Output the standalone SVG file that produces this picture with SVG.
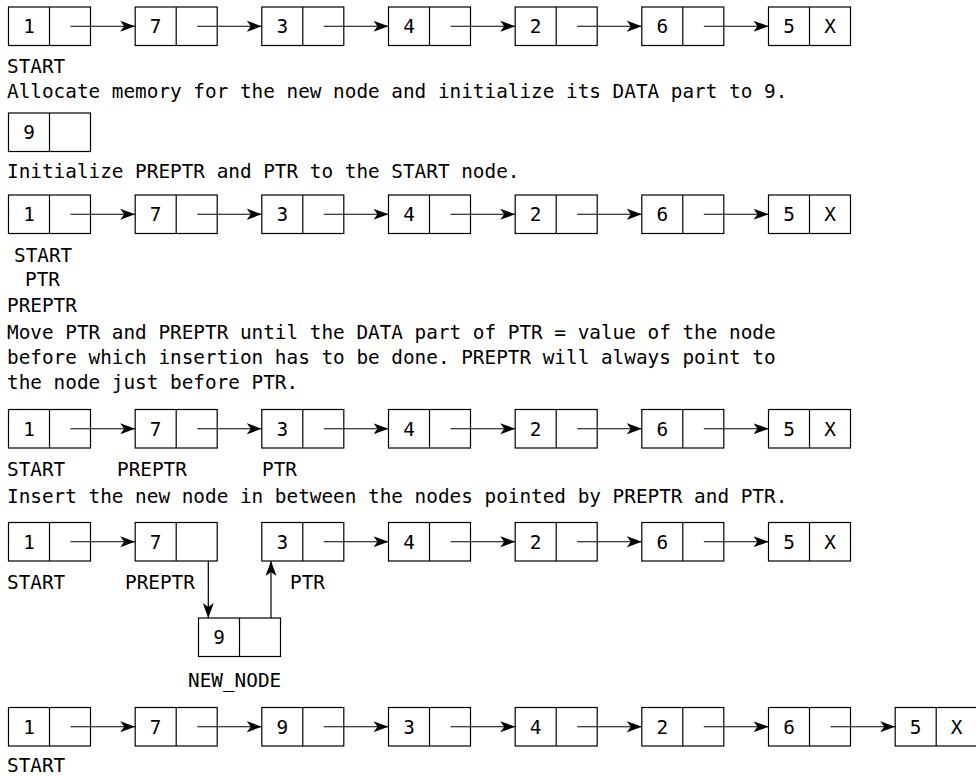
<svg xmlns="http://www.w3.org/2000/svg" xmlns:xlink="http://www.w3.org/1999/xlink" width="976" height="777" viewBox="0 0 976 777">
<style>
.box{fill:#fff;stroke:#000;stroke-width:1.2}
.ln{fill:none;stroke:#000;stroke-width:1.2}
.t{font-family:"DejaVu Sans Mono","Liberation Mono",monospace;font-size:19.35px;fill:#000}
.c{text-anchor:middle}
</style>
<defs>
<g id="frame"><rect class="box" x="0" y="0" width="82" height="38.5"/><line class="ln" x1="41" y1="0" x2="41" y2="38.5"/></g>
<marker id="ah" viewBox="0 0 15 12" refX="15" refY="6" markerWidth="15" markerHeight="12" orient="auto" markerUnits="userSpaceOnUse"><path d="M0,0.5 L15,6 L0,11.5 L4,6 Z" fill="#000"/></marker>
</defs>
<rect x="0" y="0" width="976" height="777" fill="#fff"/>

<!-- Row 1 -->
<g id="r1n1" transform="translate(8.5,7)"><use xlink:href="#frame"/><text class="t c" x="20.5" y="26">1</text></g>
<g id="r1n2" transform="translate(135.2,7)"><use xlink:href="#frame"/><text class="t c" x="20.5" y="26">7</text></g>
<g id="r1n3" transform="translate(261.8,7)"><use xlink:href="#frame"/><text class="t c" x="20.5" y="26">3</text></g>
<g id="r1n4" transform="translate(388.5,7)"><use xlink:href="#frame"/><text class="t c" x="20.5" y="26">4</text></g>
<g id="r1n5" transform="translate(515.2,7)"><use xlink:href="#frame"/><text class="t c" x="20.5" y="26">2</text></g>
<g id="r1n6" transform="translate(641.8,7)"><use xlink:href="#frame"/><text class="t c" x="20.5" y="26">6</text></g>
<g id="r1n7" transform="translate(768.5,7)"><use xlink:href="#frame"/><text class="t c" x="20.5" y="26">5</text><text class="t c" x="61.5" y="26">X</text></g>
<text class="t" x="7" y="73.3">START</text>
<text class="t" x="7" y="97.5">Allocate memory for the new node and initialize its DATA part to 9.</text>

<!-- Row 2 -->
<g id="r2n1" transform="translate(8.5,113)"><use xlink:href="#frame"/><text class="t c" x="20.5" y="26">9</text></g>
<text class="t" x="7" y="178.3">Initialize PREPTR and PTR to the START node.</text>

<!-- Row 3 -->
<g id="r3n1" transform="translate(8.5,195)"><use xlink:href="#frame"/><text class="t c" x="20.5" y="26">1</text></g>
<g id="r3n2" transform="translate(135.2,195)"><use xlink:href="#frame"/><text class="t c" x="20.5" y="26">7</text></g>
<g id="r3n3" transform="translate(261.8,195)"><use xlink:href="#frame"/><text class="t c" x="20.5" y="26">3</text></g>
<g id="r3n4" transform="translate(388.5,195)"><use xlink:href="#frame"/><text class="t c" x="20.5" y="26">4</text></g>
<g id="r3n5" transform="translate(515.2,195)"><use xlink:href="#frame"/><text class="t c" x="20.5" y="26">2</text></g>
<g id="r3n6" transform="translate(641.8,195)"><use xlink:href="#frame"/><text class="t c" x="20.5" y="26">6</text></g>
<g id="r3n7" transform="translate(768.5,195)"><use xlink:href="#frame"/><text class="t c" x="20.5" y="26">5</text><text class="t c" x="61.5" y="26">X</text></g>
<text class="t" x="14" y="261.7">START</text>
<text class="t" x="25" y="286">PTR</text>
<text class="t" x="7" y="311.7">PREPTR</text>
<text class="t" x="7" y="339.3">Move PTR and PREPTR until the DATA part of PTR = value of the node</text>
<text class="t" x="7" y="364">before which insertion has to be done. PREPTR will always point to</text>
<text class="t" x="7" y="389">the node just before PTR.</text>

<!-- Row 4 -->
<g id="r4n1" transform="translate(8.5,409.5)"><use xlink:href="#frame"/><text class="t c" x="20.5" y="26">1</text></g>
<g id="r4n2" transform="translate(135.2,409.5)"><use xlink:href="#frame"/><text class="t c" x="20.5" y="26">7</text></g>
<g id="r4n3" transform="translate(261.8,409.5)"><use xlink:href="#frame"/><text class="t c" x="20.5" y="26">3</text></g>
<g id="r4n4" transform="translate(388.5,409.5)"><use xlink:href="#frame"/><text class="t c" x="20.5" y="26">4</text></g>
<g id="r4n5" transform="translate(515.2,409.5)"><use xlink:href="#frame"/><text class="t c" x="20.5" y="26">2</text></g>
<g id="r4n6" transform="translate(641.8,409.5)"><use xlink:href="#frame"/><text class="t c" x="20.5" y="26">6</text></g>
<g id="r4n7" transform="translate(768.5,409.5)"><use xlink:href="#frame"/><text class="t c" x="20.5" y="26">5</text><text class="t c" x="61.5" y="26">X</text></g>
<text class="t" x="7" y="476">START</text>
<text class="t" x="117" y="476">PREPTR</text>
<text class="t" x="262" y="476">PTR</text>
<text class="t" x="7" y="503">Insert the new node in between the nodes pointed by PREPTR and PTR.</text>

<!-- Row 5 -->
<g id="r5n1" transform="translate(8.5,522.5)"><use xlink:href="#frame"/><text class="t c" x="20.5" y="26">1</text></g>
<g id="r5n2" transform="translate(135.2,522.5)"><use xlink:href="#frame"/><text class="t c" x="20.5" y="26">7</text></g>
<g id="r5n3" transform="translate(261.8,522.5)"><use xlink:href="#frame"/><text class="t c" x="20.5" y="26">3</text></g>
<g id="r5n4" transform="translate(388.5,522.5)"><use xlink:href="#frame"/><text class="t c" x="20.5" y="26">4</text></g>
<g id="r5n5" transform="translate(515.2,522.5)"><use xlink:href="#frame"/><text class="t c" x="20.5" y="26">2</text></g>
<g id="r5n6" transform="translate(641.8,522.5)"><use xlink:href="#frame"/><text class="t c" x="20.5" y="26">6</text></g>
<g id="r5n7" transform="translate(768.5,522.5)"><use xlink:href="#frame"/><text class="t c" x="20.5" y="26">5</text><text class="t c" x="61.5" y="26">X</text></g>
<text class="t" x="7" y="588.5">START</text>
<text class="t" x="125" y="588.5">PREPTR</text>
<text class="t" x="290" y="588.5">PTR</text>

<!-- New node -->
<g id="new_node" transform="translate(198.5,618)"><use xlink:href="#frame"/><text class="t c" x="20.5" y="26">9</text></g>
<text class="t" x="188" y="686.7">NEW_NODE</text>

<!-- Row 7 -->
<g id="r7n1" transform="translate(8.5,707.5)"><use xlink:href="#frame"/><text class="t c" x="20.5" y="26">1</text></g>
<g id="r7n2" transform="translate(135.2,707.5)"><use xlink:href="#frame"/><text class="t c" x="20.5" y="26">7</text></g>
<g id="r7n3" transform="translate(261.8,707.5)"><use xlink:href="#frame"/><text class="t c" x="20.5" y="26">9</text></g>
<g id="r7n4" transform="translate(388.5,707.5)"><use xlink:href="#frame"/><text class="t c" x="20.5" y="26">3</text></g>
<g id="r7n5" transform="translate(515.2,707.5)"><use xlink:href="#frame"/><text class="t c" x="20.5" y="26">4</text></g>
<g id="r7n6" transform="translate(641.8,707.5)"><use xlink:href="#frame"/><text class="t c" x="20.5" y="26">2</text></g>
<g id="r7n7" transform="translate(768.5,707.5)"><use xlink:href="#frame"/><text class="t c" x="20.5" y="26">6</text></g>
<g id="r7n8" transform="translate(895.2,707.5)"><use xlink:href="#frame"/><text class="t c" x="20.5" y="26">5</text><text class="t c" x="61.5" y="26">X</text></g>
<text class="t" x="7" y="772">START</text>

<g id="connectors">
<path class="ln" marker-end="url(#ah)" d="M70.5,26.25H135.2"/>
<path class="ln" marker-end="url(#ah)" d="M197.2,26.25H261.8"/>
<path class="ln" marker-end="url(#ah)" d="M323.8,26.25H388.5"/>
<path class="ln" marker-end="url(#ah)" d="M450.5,26.25H515.2"/>
<path class="ln" marker-end="url(#ah)" d="M577.2,26.25H641.8"/>
<path class="ln" marker-end="url(#ah)" d="M703.8,26.25H768.5"/>
<path class="ln" marker-end="url(#ah)" d="M70.5,214.25H135.2"/>
<path class="ln" marker-end="url(#ah)" d="M197.2,214.25H261.8"/>
<path class="ln" marker-end="url(#ah)" d="M323.8,214.25H388.5"/>
<path class="ln" marker-end="url(#ah)" d="M450.5,214.25H515.2"/>
<path class="ln" marker-end="url(#ah)" d="M577.2,214.25H641.8"/>
<path class="ln" marker-end="url(#ah)" d="M703.8,214.25H768.5"/>
<path class="ln" marker-end="url(#ah)" d="M70.5,428.75H135.2"/>
<path class="ln" marker-end="url(#ah)" d="M197.2,428.75H261.8"/>
<path class="ln" marker-end="url(#ah)" d="M323.8,428.75H388.5"/>
<path class="ln" marker-end="url(#ah)" d="M450.5,428.75H515.2"/>
<path class="ln" marker-end="url(#ah)" d="M577.2,428.75H641.8"/>
<path class="ln" marker-end="url(#ah)" d="M703.8,428.75H768.5"/>
<path class="ln" marker-end="url(#ah)" d="M70.5,541.75H135.2"/>
<path class="ln" marker-end="url(#ah)" d="M323.8,541.75H388.5"/>
<path class="ln" marker-end="url(#ah)" d="M450.5,541.75H515.2"/>
<path class="ln" marker-end="url(#ah)" d="M577.2,541.75H641.8"/>
<path class="ln" marker-end="url(#ah)" d="M703.8,541.75H768.5"/>
<path class="ln" marker-end="url(#ah)" d="M208.3,561V618"/>
<path class="ln" marker-end="url(#ah)" d="M271,618V561"/>
<path class="ln" marker-end="url(#ah)" d="M70.5,726.75H135.2"/>
<path class="ln" marker-end="url(#ah)" d="M197.2,726.75H261.8"/>
<path class="ln" marker-end="url(#ah)" d="M323.8,726.75H388.5"/>
<path class="ln" marker-end="url(#ah)" d="M450.5,726.75H515.2"/>
<path class="ln" marker-end="url(#ah)" d="M577.2,726.75H641.8"/>
<path class="ln" marker-end="url(#ah)" d="M703.8,726.75H768.5"/>
<path class="ln" marker-end="url(#ah)" d="M830.5,726.75H895.2"/>
</g>
</svg>
